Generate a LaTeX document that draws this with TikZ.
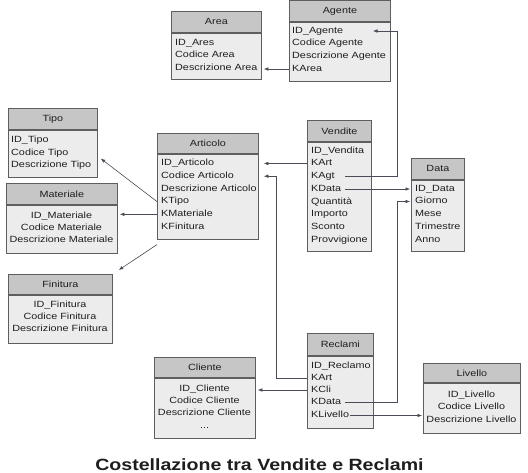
\documentclass[tikz,border=0pt]{standalone}
\usepackage{fontspec}
\setmainfont{Liberation Sans}
\newfontfamily\boxfont[FakeStretch=1.2]{Liberation Sans}
\newfontfamily\titlefont[FakeStretch=1.2]{Liberation Sans}
\usetikzlibrary{arrows.meta}
\definecolor{hdrgray}{HTML}{C6C6C6}
\definecolor{bodygray}{HTML}{ECECEC}
\definecolor{bordergray}{HTML}{5E5E5E}
\definecolor{conngray}{HTML}{4C4C58}
\definecolor{txt}{HTML}{1E1E1E}
\newcommand{\mkent}[7]{%
  \node[hdr,minimum width=#4pt,minimum height=#5pt] (#1H) at (#2,#3) {#7};
  \node[bdy,minimum width=#4pt,minimum height=#6pt] (#1B) at (#1H.south west) {};
}
\begin{document}
\begin{tikzpicture}[x=1pt,y=-1pt,
  hdr/.style={draw=bordergray,fill=hdrgray,line width=0.8pt,inner sep=0pt,anchor=north west,
    text=txt,font=\boxfont\fontsize{9}{11}\selectfont},
  bdy/.style={draw=bordergray,fill=bodygray,line width=0.8pt,inner sep=0pt,anchor=north west},
  attr/.style={inner sep=0pt,text=txt,font=\boxfont\fontsize{9}{11}\selectfont,
    text height=6.6pt,text depth=1.9pt},
  la/.style={attr,anchor=west},
  conn/.style={draw=conngray,line width=0.6pt},
  arr/.style={conn,-{Latex[length=4.5pt,width=3.6pt]}}
]
\fill[white] (0,0) rectangle (528,473);
\useasboundingbox (0,0) rectangle (528,473);

% entities
\mkent{area}{171}{11}{90}{21}{46}{Area}
\mkent{ag}{289}{0.5}{101}{20.5}{59}{Agente}
\mkent{tipo}{8}{108}{89}{21}{47}{Tipo}
\mkent{mat}{6}{183}{111}{21}{48}{Materiale}
\mkent{art}{157}{133}{101}{20}{85}{Articolo}
\mkent{fin}{8}{274}{104}{20}{48}{Finitura}
\mkent{ven}{307}{120}{64}{21}{109}{Vendite}
\mkent{dat}{411}{158}{53}{21}{71}{Data}
\mkent{rec}{307}{333}{66}{22}{72}{Reclami}
\mkent{cli}{154}{357}{101}{20}{60}{Cliente}
\mkent{liv}{423}{363}{97}{19}{50}{Livello}

% Area
\node[la] (areaID) at (175,43) {ID\_Ares};
\node[la] (areaCod) at (175,55.5) {Codice Area};
\node[la] (areaDesc) at (175,68) {Descrizione Area};
% Agente
\node[la] (agID) at (292,31) {ID\_Agente};
\node[la] (agCod) at (292,43.5) {Codice Agente};
\node[la] (agDesc) at (292,56) {Descrizione Agente};
\node[la] (agKArea) at (292,69) {KArea};
% Tipo
\node[la] (tipoID) at (11,140.5) {ID\_Tipo};
\node[la] (tipoCod) at (11,153) {Codice Tipo};
\node[la] (tipoDesc) at (11,165.5) {Descrizione Tipo};
% Materiale
\node[attr] (matID) at (61.5,216) {ID\_Materiale};
\node[attr] (matCod) at (61.5,228) {Codice Materiale};
\node[attr] (matDesc) at (61.5,240) {Descrizione Materiale};
% Articolo
\node[la] (artID) at (161,163.5) {ID\_Articolo};
\node[la] (artCod) at (161,176.2) {Codice Articolo};
\node[la] (artDesc) at (161,188.9) {Descrizione Articolo};
\node[la] (artKTipo) at (161,201.6) {KTipo};
\node[la] (artKMat) at (161,214.3) {KMateriale};
\node[la] (artKFin) at (161,227) {KFinitura};
% Finitura
\node[attr] (finID) at (60,305) {ID\_Finitura};
\node[attr] (finCod) at (60,317) {Codice Finitura};
\node[attr] (finDesc) at (60,329) {Descrizione Finitura};
% Vendite
\node[la] (venID) at (311,151) {ID\_Vendita};
\node[la] (venKArt) at (311,163.5) {KArt};
\node[la] (venKAgt) at (311,176.5) {KAgt};
\node[la] (venKData) at (311,189) {KData};
\node[la] (venQ) at (311,202) {Quantità};
\node[la] (venImp) at (311,214.5) {Importo};
\node[la] (venSc) at (311,227) {Sconto};
\node[la] (venProv) at (311,240) {Provvigione};
% Data
\node[la] (datID) at (415,189) {ID\_Data};
\node[la] (datGio) at (415,201.5) {Giorno};
\node[la] (datMese) at (415,214.5) {Mese};
\node[la] (datTri) at (415,227) {Trimestre};
\node[la] (datAnno) at (415,240) {Anno};
% Reclami
\node[la] (recID) at (311,366) {ID\_Reclamo};
\node[la] (recKArt) at (311,378) {KArt};
\node[la] (recKCli) at (311,390) {KCli};
\node[la] (recKData) at (311,402.5) {KData};
\node[la] (recKLiv) at (311,415.5) {KLivello};
% Cliente
\node[attr] (cliID) at (204.5,389) {ID\_Cliente};
\node[attr] (cliCod) at (204.5,401) {Codice Cliente};
\node[attr] (cliDesc) at (204.5,413) {Descrizione Cliente};
\node[attr] (cliDots) at (204.5,426) {...};
% Livello
\node[attr] (livID) at (471.5,395) {ID\_Livello};
\node[attr] (livCod) at (471.5,407.5) {Codice Livello};
\node[attr] (livDesc) at (471.5,420) {Descrizione Livello};

% routing coordinates
\coordinate (xV) at (345,0);
\coordinate (xBus) at (397,0);
\coordinate (xAg) at (373,0);
\coordinate (xR) at (276,0);

% connectors
\draw[arr,shorten >=2pt] (agB.west |- agKArea) -- (areaB.east |- agKArea);
\draw[arr] (xV |- venKAgt) -- (xBus |- venKAgt) -- (xBus |- agID) -- (xAg |- agID);
\draw[arr,shorten >=5pt] (venB.west |- venKArt) -- (artB.east |- venKArt);
\draw[arr,shorten >=1pt] (xV |- venKData) -- (datB.west |- venKData);
\draw[arr,shorten >=5pt] (recB.west |- recKArt) -- (xR |- recKArt) -- (xR |- artCod) -- (artB.east |- artCod);
\draw[arr,shorten >=2pt] (recB.west |- recKCli) -- (cliB.east |- recKCli);
\draw[arr,shorten >=1pt] ([xshift=4pt]recKData.east) -- (xBus |- recKData) -- (xBus |- datGio) -- (datB.west |- datGio);
\draw[arr,shorten >=1pt] ([xshift=1pt]recKLiv.east) -- (livB.west |- recKLiv);
\draw[arr] (artB.west |- artKTipo) -- ([xshift=3pt,yshift=19pt]tipoB.south east);
\draw[arr,shorten >=2pt] (artB.west |- artKMat) -- (matB.east |- artKMat);
\draw[arr] ([yshift=-5pt]artB.south west) -- ([xshift=6pt,yshift=4pt]finH.north east);

% title
\node[inner sep=0pt,text=txt,font=\titlefont\bfseries\fontsize{16.3}{19}\selectfont] (title) at (259.5,464.5) {Costellazione tra Vendite e Reclami};
\end{tikzpicture}
\end{document}
